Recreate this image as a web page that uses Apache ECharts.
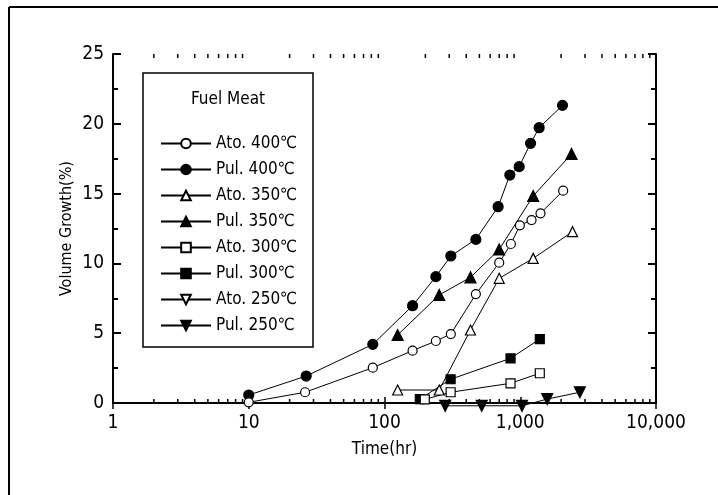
<!DOCTYPE html>
<html>
<head>
<meta charset="utf-8">
<script src="https://cdn.jsdelivr.net/npm/echarts@6/dist/echarts.min.js"></script>
<style>
  html, body { margin: 0; padding: 0; background: #fff; }
  #chart { width: 718px; height: 495px; }
</style>
</head>
<body>
<div id="chart"></div>
<script>
// time (hr) / volume growth (%)
let ato400T = [10, 26, 82, 161, 239, 308, 471, 700, 853, 993, 1211, 1410, 2071];
let ato400V = [0.05, 0.77, 2.53, 3.75, 4.44, 4.94, 7.8, 10.05, 11.39, 12.73, 13.1, 13.59, 15.21];
let pul400T = [10, 26.5, 82, 161, 239, 308, 471, 687, 838, 982, 1191, 1378, 2047];
let pul400V = [0.57, 1.93, 4.2, 6.97, 9.05, 10.53, 11.72, 14.06, 16.33, 16.93, 18.6, 19.72, 21.32];
let ato350T = [125, 253, 430, 700, 1245, 2427];
let ato350V = [0.93, 0.93, 5.23, 8.93, 10.36, 12.27];
let pul350T = [125, 253, 430, 700, 1245, 2387];
let pul350V = [4.87, 7.74, 9.0, 11.0, 14.83, 17.84];
let ato300T = [198, 307, 848, 1393];
let ato300V = [0.26, 0.77, 1.41, 2.13];
let pul300T = [182, 307, 848, 1393];
let pul300V = [0.28, 1.7, 3.2, 4.58];
let ato250T = [];
let ato250V = [];
let pul250T = [280, 520, 1030, 1580, 2750];
let pul250V = [-0.2, -0.2, -0.2, 0.28, 0.77];

let xTickLabels = { 1: "1", 10: "10", 100: "100", 1000: "1,000", 10000: "10,000" };
let xMinorTicks = [2, 3, 4, 5, 6, 7, 8, 9, 20, 30, 40, 50, 60, 70, 80, 90,
  200, 300, 400, 500, 600, 700, 800, 900, 2000, 3000, 4000, 5000, 6000, 7000, 8000, 9000];

let fontFam = "'Liberation Sans Narrow', 'DejaVu Sans Condensed', sans-serif";

function pairs(ts, vs) {
  return ts.map(function (t, i) { return [t, vs[i]]; });
}

function makeSeries(name, ts, vs, symbol, filled, size, rotate) {
  return {
    name: name,
    type: "line",
    data: pairs(ts, vs),
    symbol: symbol,
    symbolSize: size,
    symbolRotate: rotate || 0,
    clip: false,
    lineStyle: { color: "#000", width: 1 },
    itemStyle: { color: filled ? "#000" : "#fff", borderColor: "#000", borderWidth: 1.2 },
    emphasis: { disabled: true },
    z: filled ? 3 : 4,
  };
}

let chart = echarts.init(document.getElementById("chart"));

let option = {
  animation: false,
  textStyle: { fontFamily: fontFam },
  grid: { left: 113, top: 54, right: 62, bottom: 92 },
  legend: {
    orient: "vertical",
    left: 155,
    top: 130,
    itemWidth: 50,
    itemHeight: 12,
    itemGap: 9,
    textStyle: { fontSize: 17, color: "#000", fontFamily: fontFam },
    lineStyle: { width: 2 },
    selectedMode: false,
  },
  xAxis: [
    {
      type: "log",
      min: 1,
      max: 10000,
      logBase: 10,
      name: "Time(hr)",
      nameLocation: "middle",
      nameGap: 38,
      nameMoveOverlap: false,
      nameTextStyle: { fontSize: 17, color: "#000" },
      axisLine: { lineStyle: { color: "#000", width: 2 } },
      axisTick: { inside: true, length: 6, lineStyle: { color: "#000", width: 1.5 } },
      axisLabel: {
        fontSize: 19, color: "#000", margin: 11,
        formatter: function (v) { return xTickLabels[v] || ""; },
      },
      splitLine: { show: false },
    },
    {
      type: "log",
      min: 1,
      max: 10000,
      logBase: 10,
      position: "top",
      axisLine: { lineStyle: { color: "#000", width: 2 } },
      axisTick: { inside: true, length: 6, lineStyle: { color: "#000", width: 1.5 } },
      axisLabel: { show: false },
      splitLine: { show: false },
    },
  ],
  yAxis: [
    {
      type: "value",
      min: 0,
      max: 25,
      interval: 5,
      name: "Volume Growth(%)",
      nameLocation: "middle",
      nameGap: 38,
      nameMoveOverlap: false,
      nameTextStyle: { fontSize: 16, color: "#000" },
      axisLine: { show: true, lineStyle: { color: "#000", width: 2 } },
      axisTick: { show: true, inside: true, length: 8, lineStyle: { color: "#000", width: 2 } },
      minorTick: { show: true, splitNumber: 2, length: 5, lineStyle: { color: "#000", width: 2 } },
      axisLabel: { fontSize: 19, color: "#000", margin: 9 },
      splitLine: { show: false },
    },
    {
      type: "value",
      min: 0,
      max: 25,
      interval: 5,
      position: "right",
      axisLine: { show: true, lineStyle: { color: "#000", width: 2 } },
      axisTick: { show: true, inside: true, length: 8, lineStyle: { color: "#000", width: 2 } },
      minorTick: { show: true, splitNumber: 2, length: 5, lineStyle: { color: "#000", width: 2 } },
      axisLabel: { show: false },
      splitLine: { show: false },
    },
  ],
  series: [
    makeSeries("Ato. 400\u2103", ato400T, ato400V, "circle", false, 9),
    makeSeries("Pul. 400\u2103", pul400T, pul400V, "circle", true, 10),
    makeSeries("Ato. 350\u2103", ato350T, ato350V, "triangle", false, 10),
    makeSeries("Pul. 350\u2103", pul350T, pul350V, "triangle", true, 11),
    makeSeries("Ato. 300\u2103", ato300T, ato300V, "rect", false, 9),
    makeSeries("Pul. 300\u2103", pul300T, pul300V, "rect", true, 9),
    makeSeries("Ato. 250\u2103", ato250T, ato250V, "triangle", false, 10, 180),
    makeSeries("Pul. 250\u2103", pul250T, pul250V, "triangle", true, 11, 180),
  ],
};
chart.setOption(option);

// log minor ticks (2..9 of every decade), placed through the axis scale
function minorTickGraphics() {
  let els = [];
  let yBottom = chart.convertToPixel({ yAxisIndex: 0 }, 0);
  let yTop = chart.convertToPixel({ yAxisIndex: 0 }, 25);
  xMinorTicks.forEach(function (t) {
    let x = chart.convertToPixel({ xAxisIndex: 0 }, t);
    els.push({ type: "line", silent: true, shape: { x1: x, y1: yBottom, x2: x, y2: yBottom - 4 }, style: { stroke: "#000", lineWidth: 1.5 } });
    els.push({ type: "line", silent: true, shape: { x1: x, y1: yTop, x2: x, y2: yTop + 4 }, style: { stroke: "#000", lineWidth: 1.5 } });
  });
  return els;
}

chart.setOption({
  graphic: [
    // outer frame of the figure
    { type: "line", silent: true, shape: { x1: 9, y1: 7, x2: 718, y2: 7 }, style: { stroke: "#000", lineWidth: 2 } },
    { type: "line", silent: true, shape: { x1: 9, y1: 7, x2: 9, y2: 495 }, style: { stroke: "#000", lineWidth: 2 } },
    // legend box + title
    { type: "rect", silent: true, shape: { x: 143, y: 73, width: 170, height: 274 }, style: { fill: "none", stroke: "#000", lineWidth: 1.5 }, z: 10 },
    { type: "text", silent: true, x: 228, y: 100, style: { text: "Fuel Meat", fontSize: 17, fontFamily: fontFam, fill: "#000", align: "center", verticalAlign: "middle" }, z: 10 },
  ].concat(minorTickGraphics()),
});
</script>
</body>
</html>
